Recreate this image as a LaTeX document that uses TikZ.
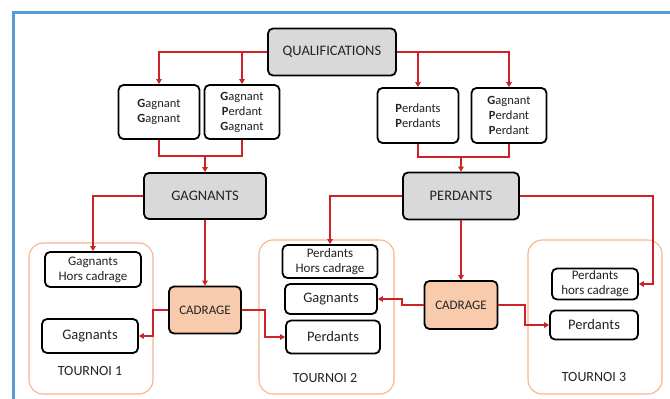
\documentclass[tikz,border=0pt]{standalone}
\usepackage{fontspec}
\setmainfont{Carlito}
\usetikzlibrary{arrows.meta}
\definecolor{blueframe}{RGB}{91,155,213}
\definecolor{linered}{RGB}{205,35,40}
\definecolor{tframe}{RGB}{247,180,140}
\definecolor{peach}{RGB}{248,203,173}
\definecolor{hdrgray}{RGB}{217,217,217}
\definecolor{txt}{RGB}{35,35,35}
\tikzset{
  boxbase/.style={draw=black, line width=1.8pt, rounded corners=5pt, align=center, text=txt, inner sep=0pt},
  hdr/.style={boxbase, fill=hdrgray, font=\fontsize{14.5}{16}\selectfont},
  qbox/.style={boxbase, fill=white, font=\fontsize{12.5}{15}\selectfont},
  tbox/.style={boxbase, fill=white, font=\fontsize{13}{15}\selectfont},
  tboxbig/.style={boxbase, fill=white, font=\fontsize{14.5}{16}\selectfont},
  cad/.style={boxbase, fill=peach, font=\fontsize{13}{15}\selectfont},
  tourframe/.style={draw=tframe, line width=1.1pt, rounded corners=14pt},
  tlabel/.style={text=txt, font=\fontsize{14}{16}\selectfont, inner sep=0pt},
  wire/.style={draw=linered, line width=2pt},
  conn/.style={wire, -{Triangle[length=5pt,width=5.5pt]}},
}
\begin{document}
\begin{tikzpicture}[x=1pt,y=-1pt]
\useasboundingbox (0,0) rectangle (670,399);
% outer blue frame (cropped)
\draw[blueframe, line width=3pt] (13,402) -- (13,12) -- (673,12);

% tournament frames
\draw[tourframe] (29,243) rectangle (153,394);
\draw[tourframe] (259,240) rectangle (394,394);
\draw[tourframe] (528,240) rectangle (662,394);
\node[tlabel] (t1) at (90,371) {TOURNOI 1};
\node[tlabel] (t2) at (325,378) {TOURNOI 2};
\node[tlabel] (t3) at (594,377) {TOURNOI 3};

% nodes
\node[hdr, minimum width=128pt, minimum height=47pt] (Q) at (332,52) {QUALIFICATIONS};
\node[qbox, minimum width=81pt, minimum height=54pt] (GG) at (159,112) {\textbf{G}agnant\\\textbf{G}agnant};
\node[qbox, minimum width=75pt, minimum height=54pt] (GPG) at (242,112) {\textbf{G}agnant\\\textbf{P}erdant\\\textbf{G}agnant};
\node[qbox, minimum width=81pt, minimum height=55pt] (PP) at (418,115.5) {\textbf{P}erdants\\\textbf{P}erdants};
\node[qbox, minimum width=75pt, minimum height=55pt] (GPP) at (509,115.5) {\textbf{G}agnant\\\textbf{P}erdant\\\textbf{P}erdant};
\node[hdr, minimum width=122pt, minimum height=46pt] (GAG) at (205,196) {GAGNANTS};
\node[hdr, minimum width=116pt, minimum height=47pt] (PER) at (461,196) {PERDANTS};

\node[tbox, minimum width=96pt, minimum height=35pt] (GHC) at (93,269.5) {Gagnants\\Hors cadrage};
\node[tboxbig, minimum width=96pt, minimum height=34pt] (G1) at (90,336) {Gagnants};
\node[cad, minimum width=72pt, minimum height=47pt] (CAD1) at (205,310) {CADRAGE};

\node[tbox, minimum width=95pt, minimum height=33pt] (PHC2) at (330,261.5) {Perdants\\Hors cadrage};
\node[tboxbig, minimum width=92pt, minimum height=30pt] (G2) at (331,299) {Gagnants};
\node[tboxbig, minimum width=94pt, minimum height=33pt] (P2) at (333,337) {Perdants};
\node[cad, minimum width=73pt, minimum height=48pt] (CAD2) at (461,305) {CADRAGE};

\node[tbox, minimum width=86pt, minimum height=31pt] (PHC3) at (595,284) {Perdants\\hors cadrage};
\node[tboxbig, minimum width=88pt, minimum height=29pt] (P3) at (594,325) {Perdants};

% connectors from QUALIFICATIONS
\draw[conn] (Q.west) -| (GG.north);
\draw[conn] (Q.west -| GPG.north) -- (GPG.north);
\draw[conn] (Q.east) -| (GPP.north);
\draw[conn] (Q.east -| PP.north) -- (PP.north);

% joins
\coordinate (jL) at (205,156);
\coordinate (jR) at (461,157);
\draw[wire] (GG.south) -- (GG.south |- jL) -- (GPG.south |- jL) -- (GPG.south);
\draw[conn] (jL) -- (GAG.north);
\draw[wire] (PP.south) -- (PP.south |- jR) -- (GPP.south |- jR) -- (GPP.south);
\draw[conn] (jR) -- (PER.north);

% GAGNANTS
\draw[conn] (GAG.west) -| (GHC.north);
\draw[conn] (GAG.south) -- (CAD1.north);
\draw[conn] (CAD1.west) -- ++(-15,0) |- (G1.east);
\draw[conn] (CAD1.east) -- ++(23,0) |- (P2.west);

% PERDANTS
\draw[conn] (PER.west) -| (PHC2.north);
\draw[conn] (PER.east) -- ++(133,0) |- (PHC3.east);
\draw[conn] (PER.south) -- (CAD2.north);
\draw[conn] (CAD2.west) -- ++(-22,0) |- (G2.east);
\draw[conn] (CAD2.east) -- ++(27,0) |- (P3.west);
\end{tikzpicture}
\end{document}
